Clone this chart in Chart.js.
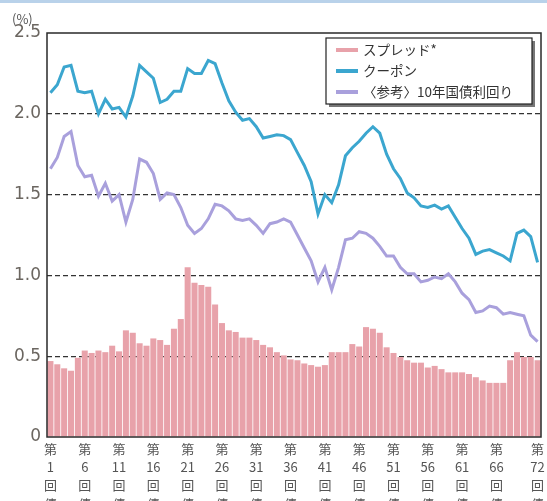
<!DOCTYPE html>
<html lang="ja">
<head>
<meta charset="UTF-8">
<title>スプレッド・クーポン推移</title>
<style>
  html, body { margin: 0; padding: 0; background: #fff; }
  #wrap { position: relative; width: 547px; height: 501px; overflow: hidden; }
  #topline { position: absolute; left: 0; top: 0; width: 547px; height: 3px; background: #b9d2ea; }
  #unit { position: absolute; left: 12px; top: 9px; font: 13px "Noto Sans CJK JP", "DejaVu Sans", sans-serif; color: #555; }
  canvas { position: absolute; left: 0; top: 0; }
</style>
</head>
<body>
<div id="wrap">
  <canvas id="myChart" width="547" height="501"></canvas>
  <div id="topline"></div>
  <div id="unit">(%)</div>
</div>

<script src="https://cdn.jsdelivr.net/npm/chart.js"></script>
<script>
// issue numbers 第1回債 ... 第72回債
var issues = [];
for (var n = 1; n <= 72; n++) issues.push(n);

// issues that get an axis label
var labeledIssues = [1, 6, 11, 16, 21, 26, 31, 36, 41, 46, 51, 56, 61, 66, 72];

var yTicks = [0, 0.5, 1.0, 1.5, 2.0, 2.5];

var spread = [
  0.47, 0.45, 0.425, 0.41, 0.49, 0.535, 0.52, 0.535, 0.525, 0.565,
  0.53, 0.66, 0.645, 0.58, 0.565, 0.61, 0.60, 0.57, 0.67, 0.73,
  1.05, 0.955, 0.94, 0.93, 0.82, 0.705, 0.66, 0.65, 0.615, 0.615,
  0.60, 0.57, 0.555, 0.525, 0.505, 0.48, 0.475, 0.455, 0.445, 0.435,
  0.445, 0.525, 0.525, 0.525, 0.575, 0.56, 0.68, 0.67, 0.645, 0.555,
  0.52, 0.495, 0.475, 0.46, 0.46, 0.43, 0.44, 0.42, 0.40, 0.40,
  0.40, 0.39, 0.37, 0.35, 0.335, 0.335, 0.335, 0.475, 0.525, 0.495,
  0.495, 0.475
];

var coupon = [
  2.13, 2.18, 2.29, 2.30, 2.14, 2.13, 2.14, 2.00, 2.09, 2.03,
  2.04, 1.98, 2.11, 2.30, 2.26, 2.22, 2.07, 2.09, 2.14, 2.14,
  2.28, 2.25, 2.25, 2.33, 2.31, 2.19, 2.08, 2.01, 1.96, 1.97,
  1.92, 1.85, 1.86, 1.87, 1.865, 1.84, 1.76, 1.68, 1.58, 1.38,
  1.50, 1.45, 1.56, 1.74, 1.79, 1.83, 1.88, 1.92, 1.88, 1.75,
  1.66, 1.60, 1.51, 1.48, 1.43, 1.42, 1.435, 1.41, 1.43, 1.36,
  1.29, 1.23, 1.13, 1.15, 1.16, 1.14, 1.12, 1.09, 1.26, 1.28,
  1.24, 1.08
];

var jgb10y = [
  1.66, 1.73, 1.86, 1.89, 1.68, 1.61, 1.62, 1.49, 1.57, 1.46,
  1.50, 1.33, 1.47, 1.72, 1.70, 1.63, 1.47, 1.51, 1.50, 1.42,
  1.31, 1.26, 1.29, 1.35, 1.44, 1.43, 1.40, 1.35, 1.34, 1.35,
  1.31, 1.26, 1.32, 1.33, 1.35, 1.33, 1.25, 1.17, 1.09, 0.96,
  1.05, 0.91, 1.05, 1.22, 1.23, 1.27, 1.26, 1.23, 1.18, 1.12,
  1.12, 1.05, 1.01, 1.01, 0.96, 0.97, 0.99, 0.98, 1.01, 0.96,
  0.89, 0.85, 0.77, 0.78, 0.81, 0.80, 0.76, 0.77, 0.76, 0.75,
  0.63, 0.59
];

var legendItems = [
  { text: 'スプレッド*', color: '#e8a2aa' },
  { text: 'クーポン', color: '#3ba6cf' },
  { text: '〈参考〉10年国債利回り', color: '#a9a0dc' }
];

var jpFont = '"Noto Sans CJK JP", "DejaVu Sans", sans-serif';

// frame around the plot area
var framePlugin = {
  id: 'frame',
  afterDatasetsDraw: function(chart) {
    var a = chart.chartArea, ctx = chart.ctx;
    ctx.save();
    ctx.strokeStyle = '#2a2a2a';
    ctx.lineWidth = 1.5;
    ctx.strokeRect(a.left, a.top, a.right - a.left, a.bottom - a.top);
    ctx.restore();
  }
};

// boxed legend inside the plot, top right
var boxLegend = {
  id: 'boxLegend',
  afterDraw: function(chart) {
    var a = chart.chartArea, ctx = chart.ctx;
    var w = 206, h = 66;
    var x = a.right - 9 - w, y = a.top + 5;
    ctx.save();
    ctx.fillStyle = '#777';
    ctx.fillRect(x + 3, y + 3, w, h);
    ctx.fillStyle = '#fff';
    ctx.fillRect(x, y, w, h);
    ctx.strokeStyle = '#222';
    ctx.lineWidth = 1.2;
    ctx.strokeRect(x, y, w, h);
    ctx.font = '13.5px ' + jpFont;
    ctx.textBaseline = 'middle';
    legendItems.forEach(function(it, i) {
      var cy = y + 12 + i * 21;
      ctx.fillStyle = it.color;
      ctx.fillRect(x + 10, cy - 2, 22, 4);
      ctx.fillStyle = '#333';
      ctx.fillText(it.text, x + 37, cy);
    });
    ctx.restore();
  }
};

var ctx = document.getElementById('myChart');
var myChart = new Chart(ctx, {
  type: 'bar',
  data: {
    labels: issues.map(function(n) { return '第' + n + '回債'; }),
    datasets: [
      {
        type: 'line',
        label: 'クーポン',
        data: coupon,
        borderColor: '#3ba6cf',
        borderWidth: 3,
        pointRadius: 0,
        tension: 0,
        order: 1
      },
      {
        type: 'line',
        label: '〈参考〉10年国債利回り',
        data: jgb10y,
        borderColor: '#a9a0dc',
        borderWidth: 3,
        pointRadius: 0,
        tension: 0,
        order: 2
      },
      {
        type: 'bar',
        label: 'スプレッド*',
        data: spread,
        backgroundColor: '#e8a2aa',
        barPercentage: 0.88,
        categoryPercentage: 1.0,
        order: 3
      }
    ]
  },
  options: {
    responsive: false,
    animation: false,
    layout: { padding: { left: 3, right: 6, top: 33, bottom: 0 } },
    plugins: {
      legend: { display: false },
      tooltip: { enabled: false }
    },
    scales: {
      x: {
        grid: { display: false },
        border: { display: false },
        afterFit: function(s) { s.height = 64; },
        ticks: {
          autoSkip: false,
          maxRotation: 0,
          padding: -5,
          color: '#555',
          font: { family: jpFont, size: 13, lineHeight: 1.4 },
          callback: function(v, i) {
            var n = issues[i];
            if (labeledIssues.indexOf(n) < 0) return null;
            return ['第', String(n), '回', '債'];
          }
        }
      },
      y: {
        min: 0,
        max: 2.5,
        afterFit: function(s) { s.width = 44; },
        afterBuildTicks: function(s) {
          s.ticks = yTicks.map(function(v) { return { value: v }; });
        },
        border: { display: false, dash: [5, 3] },
        grid: {
          drawTicks: false,
          lineWidth: 1.2,
          color: function(c) {
            var v = c.tick && c.tick.value;
            return (v === 0 || v === 2.5) ? 'rgba(0,0,0,0)' : '#333';
          }
        },
        ticks: {
          padding: 6,
          color: '#6b6660',
          font: { family: '"DejaVu Sans", sans-serif', size: 17 },
          callback: function(v) { return v === 0 ? '0' : v.toFixed(1); }
        }
      }
    }
  },
  plugins: [framePlugin, boxLegend]
});
</script>
</body>
</html>
